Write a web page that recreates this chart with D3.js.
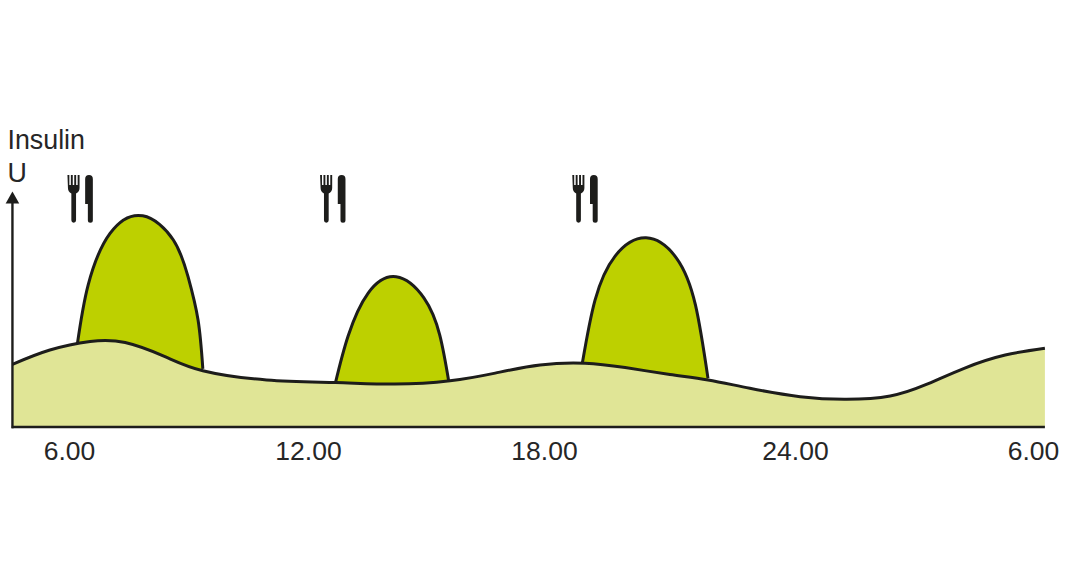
<!DOCTYPE html>
<html><head><meta charset="utf-8">
<script src="https://cdn.jsdelivr.net/npm/d3@7"></script>
<style>html,body{margin:0;background:#fff}svg{display:block}text{font-family:"Liberation Sans",Arial,sans-serif;fill:#262626}</style>
</head><body><div id="c"></div>
<script>
const tickHours = [6, 12, 18, 24, 30];
const tickLabels = ["6.00", "12.00", "18.00", "24.00", "6.00"];
const mealHours = [6.28, 12.63, 18.98];
const basalHours = [4.58,5.52,6.53,7.41,8.41,9.36,10.96,12.70,14.21,15.61,16.76,17.90,18.98,19.94,21.01,21.92,22.92,24.13,25.30,26.40,27.28,28.28,29.30,30.30];
const basalValues = [28.5,35,38.9,38.4,32,25.6,21.4,20.2,19.5,21,24.5,28.2,29,27,23.9,21.4,17.6,13.8,12.6,14.1,19.1,26.8,32.7,35.8];
const bolus1Hours = [6.21,6.48,7.03,7.85,8.62,8.99,9.24,9.36];
const bolus1Values = [37.7,64.5,88,96,85,68.2,48.6,26.4];
const bolus2Hours = [12.70,13.02,13.53,14.24,14.95,15.35,15.58];
const bolus2Values = [20.3,41.4,60.9,68.3,58.6,41.8,20.6];
const bolus3Hours = [18.92,19.22,19.70,20.44,21.17,21.62,21.92];
const bolus3Values = [29.4,57.7,77.7,86,76.7,55.5,22.1];
const axisTopValue = 102;
const iconTopValue = 114.5;

const W = 1068, H = 580, ink = "#1d1d1b";
const x = d3.scaleLinear().domain(tickHours).range([69, 308, 544, 795, 1033]);
const y = d3.scaleLinear().domain([0, 100]).range([427, 207]);
const svg = d3.select("#c").append("svg").attr("width", W).attr("height", H);

const zip = (a, b) => a.map((h, i) => ({h, v: b[i]}));
const area = d3.area().x(d => x(d.h)).y0(y(0)).y1(d => y(d.v)).curve(d3.curveNatural);
const line = area.lineY1();

[[bolus1Hours, bolus1Values], [bolus2Hours, bolus2Values], [bolus3Hours, bolus3Values]].forEach(([h, v]) => {
  const d = zip(h, v);
  svg.append("path").attr("d", area(d)).attr("fill", "#bdd000");
  svg.append("path").attr("d", line(d)).attr("fill", "none").attr("stroke", ink).attr("stroke-width", 3);
});
const basal = zip(basalHours, basalValues);
svg.append("path").attr("d", area(basal)).attr("fill", "#e0e596");
svg.append("path").attr("d", line(basal)).attr("fill", "none").attr("stroke", ink).attr("stroke-width", 3);

// axes
const x0 = x(basalHours[0]);
svg.append("line").attr("x1", x0 - .7).attr("x2", x(basalHours[basalHours.length - 1]))
  .attr("y1", y(0)).attr("y2", y(0)).attr("stroke", ink).attr("stroke-width", 2.6);
svg.append("line").attr("x1", x0).attr("x2", x0).attr("y1", y(0) + 1.3).attr("y2", y(axisTopValue))
  .attr("stroke", ink).attr("stroke-width", 2.4);
svg.append("path").attr("transform", `translate(${x0},${y(axisTopValue)})`)
  .attr("d", "M-6.8,1 L0,-11 L6.8,1 Z").attr("fill", ink);

const axis = d3.axisBottom(x).tickValues(tickHours).tickSize(0).tickPadding(0)
  .tickFormat((d, i) => tickLabels[i]);
const g = svg.append("g").attr("transform", `translate(0,${y(0)})`).call(axis);
g.select(".domain").remove();
g.selectAll("text").attr("y", 33).attr("dy", 0).attr("font-size", 26.5)
  .style("font-family", '"Liberation Sans",Arial,sans-serif').style("fill", "#262626");

svg.append("text").attr("x", 7.5).attr("y", 149).attr("font-size", 26.8).text("Insulin");
svg.append("text").attr("x", 7.5).attr("y", 182).attr("font-size", 26.8).text("U");

// cutlery icons
const forkPath = "M-12.7,0h1.9v10h1.5v-10h1.9v10h1.5v-10h1.9v10h1.5v-10h1.9v13q0,3.5,-3.5,5.5v26.7a2.35,2.35,0,0,1,-4.7,0v-26.7q-3.4,-2,-3.4,-5.5z";
const knifePath = "M5,3.8a3.85,3.85,0,0,1,7.7,0v41.4a2.5,2.5,0,0,1,-5,0v-16.3h-2.7z";
svg.selectAll("g.meal").data(mealHours).join("g").attr("class", "meal")
  .attr("transform", d => `translate(${x(d)},${y(iconTopValue)})`)
  .selectAll("path").data([forkPath, knifePath]).join("path").attr("d", d => d).attr("fill", ink);
</script></body></html>
